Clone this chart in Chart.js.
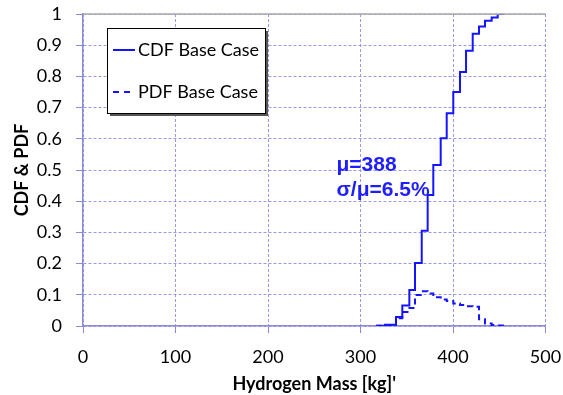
<!DOCTYPE html>
<html>
<head>
<meta charset="utf-8">
<script src="https://cdn.jsdelivr.net/npm/chart.js@4"></script>
<style>
  html, body { margin: 0; padding: 0; background: #fff; }
  #wrap { width: 563px; height: 395px; }
</style>
</head>
<body>
<div id="wrap"><canvas id="myChart" width="563" height="395"></canvas></div>
<script>
// bin edges of the step curves (kg)
const massEdges = [317, 326.5, 338.4, 345.2, 352.8, 358.9, 366.2, 372.6, 378.7, 386.7,
                   393.2, 400.3, 407.6, 414.1, 421.3, 428.1, 434.6, 441.8, 448.3, 455.1];
// CDF level reached at each edge
const cdfBase = [0.001, 0.004, 0.029, 0.066, 0.115, 0.202, 0.305, 0.420, 0.516, 0.602,
                 0.682, 0.750, 0.814, 0.882, 0.937, 0.960, 0.978, 0.989, 1.0, 1.0];
// PDF value of the bin starting at each edge (last one closes the curve)
const pdfBase = [0.001, 0.003, 0.025, 0.045, 0.058, 0.099, 0.111, 0.104, 0.092, 0.085,
                 0.080, 0.072, 0.067, 0.063, 0.062, 0.022, 0.008, 0.003, 0.002, 0.002];

const seriesNames = ['CDF Base Case', 'PDF Base Case'];
const xTicks = [0, 100, 200, 300, 400, 500];
const yTicks = ['0', '0.1', '0.2', '0.3', '0.4', '0.5', '0.6', '0.7', '0.8', '0.9', '1'];
const statLines = ['\u03bc=388', '\u03c3/\u03bc=6.5%'];

const BLUE = '#1414ff';
const GRID = 'rgba(150,150,225,0.95)';
const AXIS = '#8a8ad8';

function toPoints(xs, ys) {
    return xs.map((x, i) => ({ x: x, y: ys[i] }));
}

// no automatic padding for overhanging tick labels
function noPad(scale) {
    scale.paddingTop = 0;
    scale.paddingBottom = 0;
    scale.paddingLeft = 0;
    scale.paddingRight = 0;
}

// legend box, stats text and the grey top border
const extras = {
    id: 'extras',
    afterDraw(chart) {
        const ctx = chart.ctx;
        const area = chart.chartArea;
        ctx.save();
        // top border
        ctx.strokeStyle = '#a8a8a8';
        ctx.lineWidth = 1.5;
        ctx.beginPath();
        ctx.moveTo(area.left, area.top);
        ctx.lineTo(area.right, area.top);
        ctx.stroke();

        // legend with shadow
        const bx = 107, by = 28, bw = 158, bh = 85;
        ctx.fillStyle = '#555';
        ctx.fillRect(bx + 3, by + 3, bw, bh);
        ctx.fillStyle = '#fff';
        ctx.fillRect(bx, by, bw, bh);
        ctx.strokeStyle = '#000';
        ctx.lineWidth = 1;
        ctx.strokeRect(bx + 0.5, by + 0.5, bw, bh);

        ctx.strokeStyle = BLUE;
        ctx.lineWidth = 2;
        ctx.beginPath();
        ctx.moveTo(113, 50);
        ctx.lineTo(135, 50);
        ctx.stroke();
        ctx.setLineDash([6, 5]);
        ctx.beginPath();
        ctx.moveTo(113, 92);
        ctx.lineTo(135, 92);
        ctx.stroke();
        ctx.setLineDash([]);

        ctx.fillStyle = '#000';
        ctx.font = '18px Lato';
        ctx.textBaseline = 'middle';
        ctx.textAlign = 'left';
        ctx.fillText(seriesNames[0], 138, 50);
        ctx.fillText(seriesNames[1], 138, 92);

        // mean / spread note
        const xs = chart.scales.x, ys = chart.scales.y;
        ctx.fillStyle = '#1e1eff';
        ctx.font = 'bold 21px "Liberation Sans"';
        ctx.fillText(statLines[0], xs.getPixelForValue(274), ys.getPixelForValue(0.516));
        ctx.fillText(statLines[1], xs.getPixelForValue(274), ys.getPixelForValue(0.436));
        ctx.restore();
    }
};

const GRAPH = document.getElementById('myChart').getContext('2d');
const myGraph = new Chart(GRAPH, {
    type: 'line',
    data: {
        datasets: [
            {
                label: seriesNames[0],
                data: toPoints(massEdges, cdfBase),
                borderColor: BLUE,
                borderWidth: 2,
                stepped: 'before',
                pointRadius: 0,
                fill: false
            },
            {
                label: seriesNames[1],
                data: toPoints(massEdges, pdfBase),
                borderColor: BLUE,
                borderWidth: 2,
                borderDash: [6, 4],
                stepped: 'before',
                pointRadius: 0,
                fill: false
            }
        ]
    },
    options: {
        responsive: false,
        animation: false,
        layout: { padding: { top: 14, right: 17.5, left: 0, bottom: 0 } },
        plugins: {
            legend: { display: false },
            tooltip: { enabled: false }
        },
        scales: {
            x: {
                type: 'linear',
                min: xTicks[0],
                max: xTicks[xTicks.length - 1],
                afterBuildTicks: (scale) => { scale.ticks = xTicks.map(v => ({ value: v })); },
                afterFit: (scale) => { scale.height = 69; noPad(scale); },
                grid: { color: GRID, lineWidth: 1, tickLength: 7, tickColor: AXIS },
                border: { color: AXIS, width: 1.5, dash: [3, 2] },
                ticks: {
                    color: '#000',
                    padding: 13,
                    maxRotation: 0,
                    font: { family: 'Lato', size: 18 }
                },
                title: {
                    display: true,
                    text: "Hydrogen Mass [kg]'",
                    color: '#000',
                    padding: { top: 0, bottom: 0 },
                    font: { family: 'Lato', size: 18, weight: 'bold' }
                }
            },
            y: {
                min: 0,
                max: 1,
                afterBuildTicks: (scale) => { scale.ticks = yTicks.map(v => ({ value: Number(v) })); },
                afterFit: (scale) => { scale.width = 83; noPad(scale); },
                grid: { color: GRID, lineWidth: 1, tickLength: 7, tickColor: AXIS },
                border: { color: AXIS, width: 1.5, dash: [3, 2] },
                ticks: {
                    color: '#000',
                    padding: 14,
                    font: { family: 'Lato', size: 18 },
                    callback: (v, i) => yTicks[i]
                },
                title: {
                    display: true,
                    text: 'CDF & PDF',
                    color: '#000',
                    padding: { top: 11, bottom: 0 },
                    font: { family: 'Lato', size: 18, weight: 'bold' }
                }
            }
        }
    },
    plugins: [extras]
});
</script>
</body>
</html>
